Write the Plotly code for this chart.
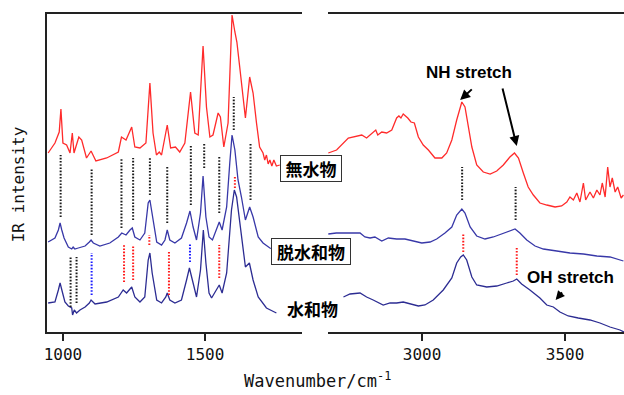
import plotly.graph_objects as go

# ---------------- data (wavenumber / cm-1, IR intensity in arbitrary units) ----------------
# Anhydrate (無水物) – fingerprint region
anh_fp_wn = [948, 972, 987, 993, 1000, 1013, 1025, 1033, 1039, 1045, 1056, 1066, 1083, 1099, 1116, 1154,
             1195, 1206, 1222, 1242, 1253, 1271, 1292, 1306, 1317, 1329, 1339, 1347, 1367, 1379, 1396,
             1411, 1429, 1449, 1464, 1476, 1493, 1505, 1517, 1528, 1546, 1554, 1566, 1581, 1590, 1595,
             1605, 1612, 1622, 1633, 1642, 1657, 1669, 1681, 1692, 1704, 1710, 1716, 1722, 1728, 1735,
             1742, 1751, 1763]
anh_fp_int = [179, 189, 200, 223, 189, 187, 179, 199, 179, 185, 195, 192, 174, 181, 171, 174,
              180, 195, 192, 205, 185, 184, 189, 249, 199, 177, 180, 177, 207, 184, 185,
              180, 189, 240, 199, 197, 286, 225, 195, 197, 219, 215, 185, 209, 272, 317,
              300, 290, 265, 236, 214, 255, 239, 209, 185, 179, 172, 177, 168, 172, 166,
              172, 166, 167]

# Dehydrated hydrate (脱水和物) – fingerprint region
deh_fp_wn = [948, 972, 984, 990, 996, 1004, 1019, 1031, 1036, 1042, 1054, 1078, 1093, 1099, 1107, 1130,
             1165, 1195, 1207, 1222, 1236, 1244, 1253, 1271, 1288, 1300, 1306, 1315, 1330, 1347, 1359,
             1367, 1376, 1394, 1417, 1435, 1447, 1458, 1470, 1484, 1493, 1503, 1514, 1526, 1540, 1550,
             1560, 1576, 1587, 1595, 1605, 1616, 1628, 1642, 1657, 1669, 1687, 1704, 1728, 1749]
deh_fp_int = [90, 94, 102, 109, 102, 94, 85, 83, 85, 83, 84, 86, 90, 92, 89, 86,
              89, 95, 99, 97, 102, 104, 95, 92, 99, 129, 132, 115, 90, 87, 92,
              102, 92, 89, 94, 109, 121, 105, 92, 119, 156, 115, 95, 92, 102, 110,
              102, 125, 169, 197, 182, 152, 135, 112, 125, 115, 95, 89, 84, 82]

# Hydrate (水和物) – fingerprint region
hyd_fp_wn = [948, 972, 984, 990, 998, 1007, 1019, 1031, 1034, 1040, 1048, 1060, 1078, 1093, 1099, 1113,
             1154, 1195, 1212, 1224, 1242, 1253, 1271, 1288, 1300, 1306, 1314, 1330, 1347, 1362, 1367,
             1376, 1394, 1417, 1435, 1445, 1458, 1470, 1484, 1494, 1503, 1514, 1523, 1540, 1550, 1560,
             1576, 1593, 1603, 1611, 1625, 1631, 1642, 1656, 1669, 1687, 1716, 1751]
hyd_fp_int = [29, 30, 42, 49, 40, 30, 26, 24, 17, 22, 19, 22, 25, 29, 32, 28,
              30, 35, 42, 39, 45, 35, 30, 35, 72, 79, 59, 32, 29, 35, 39,
              32, 29, 32, 52, 64, 49, 35, 62, 102, 69, 39, 34, 42, 47, 39,
              59, 122, 142, 135, 104, 94, 65, 69, 52, 35, 24, 19]

# Stretch region
anh_st_wn = [2672, 2701, 2742, 2760, 2777, 2789, 2806, 2824, 2838, 2845, 2859, 2876, 2894, 2911, 2919,
             2926, 2934, 2950, 2961, 2973, 2987, 3004, 3022, 3045, 3069, 3086, 3104, 3121, 3139, 3150,
             3162, 3174, 3191, 3214, 3238, 3261, 3284, 3307, 3323, 3337, 3354, 3371, 3389, 3412, 3436,
             3465, 3488, 3506, 3517, 3529, 3541, 3552, 3564, 3572, 3587, 3599, 3611, 3622, 3630, 3640,
             3649, 3657, 3665, 3675, 3684, 3696, 3704]
anh_st_int = [179, 182, 194, 195, 196, 197, 194, 199, 202, 197, 200, 199, 202, 214, 216,
              214, 218, 214, 210, 209, 195, 187, 182, 174, 174, 179, 192, 212, 230, 225,
              205, 185, 167, 160, 158, 161, 167, 175, 179, 174, 159, 145, 137, 129, 127,
              125, 126, 130, 135, 132, 139, 130, 149, 132, 140, 134, 142, 137, 149, 135,
              165, 145, 154, 140, 145, 134, 137]

deh_st_wn = [2672, 2700, 2725, 2754, 2783, 2800, 2818, 2835, 2859, 2882, 2911, 2940, 2969, 2999, 3028,
             3051, 3080, 3104, 3121, 3139, 3150, 3168, 3191, 3220, 3249, 3284, 3307, 3325, 3342, 3366,
             3395, 3424, 3471, 3517, 3564, 3611, 3657, 3704]
deh_st_int = [98, 99, 99, 99, 99, 95, 94, 95, 91, 94, 93, 93, 91, 89, 90,
              93, 99, 105, 117, 123, 119, 105, 96, 93, 95, 99, 101, 103, 99, 92,
              86, 83, 81, 79, 78, 76, 75, 71]

hyd_st_wn = [2725, 2748, 2783, 2806, 2829, 2853, 2864, 2888, 2911, 2934, 2958, 2987, 3010, 3039, 3074,
             3104, 3121, 3135, 3144, 3156, 3174, 3191, 3226, 3261, 3296, 3319, 3331, 3348, 3377, 3412,
             3436, 3459, 3482, 3511, 3546, 3587, 3622, 3657, 3692, 3706]
hyd_st_int = [35, 38, 39, 35, 32, 29, 27, 29, 29, 30, 28, 26, 27, 32, 42,
              54, 69, 75, 77, 72, 55, 47, 45, 46, 49, 51, 53, 48, 42, 34,
              27, 25, 20, 16, 14, 12, 9, 5, 2, 0]

# Band-correlation markers: position, upper end, lower end
blk_up_wn = [992, 1101, 1206, 1247, 1306, 1367, 1450, 1497, 1550, 1601, 1660, 3140, 3327]
blk_up_top = [177, 163, 174, 174, 175, 165, 186, 189, 175, 235, 189, 165, 145]
blk_up_bot = [115, 97, 104, 112, 137, 109, 127, 164, 119, 202, 132, 132, 112]

red_wn = [1215, 1247, 1304, 1373, 1550, 1605, 3144, 3331]
red_top = [87, 87, 97, 80, 87, 155, 99, 84]
red_bot = [50, 52, 87, 37, 54, 144, 80, 57]

blue_wn = [1101, 1447]
blue_top = [79, 89]
blue_bot = [37, 70]

blk_lo_wn = [1027, 1048]
blk_lo_top = [75, 75]
blk_lo_bot = [25, 29]

x_ticks_fp = [1000, 1500]
x_ticks_st = [3000, 3500]

RED = "#ff2b2b"
BLUE_M = "#3838a8"
BLUE_B = "#2c2c92"


def segs(xs, tops, bots):
    X, Y = [], []
    for x, t, b in zip(xs, tops, bots):
        X += [x, x, None]
        Y += [b, t, None]
    return X, Y


fig = go.Figure()

for xs, ys, col, xa in [
    (anh_fp_wn, anh_fp_int, RED, "x"), (deh_fp_wn, deh_fp_int, BLUE_M, "x"), (hyd_fp_wn, hyd_fp_int, BLUE_B, "x"),
    (anh_st_wn, anh_st_int, RED, "x2"), (deh_st_wn, deh_st_int, BLUE_M, "x2"), (hyd_st_wn, hyd_st_int, BLUE_B, "x2"),
]:
    fig.add_trace(go.Scatter(x=xs, y=ys, mode="lines", line=dict(color=col, width=1.3),
                             xaxis=xa, yaxis="y", hoverinfo="skip"))


def add_markers(xs, tops, bots, col):
    fp = [(x, t, b) for x, t, b in zip(xs, tops, bots) if x < 2000]
    st = [(x, t, b) for x, t, b in zip(xs, tops, bots) if x >= 2000]
    for grp, xa in [(fp, "x"), (st, "x2")]:
        if not grp:
            continue
        X, Y = segs(*zip(*grp))
        fig.add_trace(go.Scatter(x=X, y=Y, mode="lines",
                                 line=dict(color=col, width=2, dash="1.6px,1.6px"),
                                 xaxis=xa, yaxis="y", hoverinfo="skip"))


add_markers(blk_up_wn, blk_up_top, blk_up_bot, "#1a1a1a")
add_markers(red_wn, red_top, red_bot, "#ff1a1a")
add_markers(blue_wn, blue_top, blue_bot, "#1a1aff")
add_markers(blk_lo_wn, blk_lo_top, blk_lo_bot, "#1a1a1a")

axis_common = dict(showline=True, mirror=True, linecolor="#222", linewidth=1.5,
                   ticks="outside", ticklen=7, tickwidth=1.5, tickcolor="#222",
                   showgrid=False, zeroline=False,
                   tickfont=dict(family="DejaVu Sans Mono", size=16, color="#111"))

fig.update_layout(
    width=624, height=395,
    margin=dict(l=47, r=0, t=14, b=63),
    paper_bgcolor="white", plot_bgcolor="white",
    showlegend=False,
    xaxis=dict(domain=[0, 0.4419], range=[944, 1841], tickvals=x_ticks_fp, anchor="y", **axis_common),
    xaxis2=dict(domain=[0.487, 1], range=[2671, 3706], tickvals=x_ticks_st, anchor="y", **axis_common),
    yaxis=dict(range=[0, 318], showline=True, linecolor="#222", linewidth=1.5, showticklabels=False,
               ticks="", showgrid=False, zeroline=False, anchor="x"),
)

cjk = dict(family="Noto Sans CJK JP", size=17, color="black")
lab = dict(family="Liberation Sans, Arial", size=17, color="black")
C = dict(xanchor="center", yanchor="middle", showarrow=False)

annos = [
    dict(text="<b>無水物</b>", xref="paper", yref="y", x=0.4575, y=163.5, font=cjk,
         bgcolor="white", bordercolor="#333", borderwidth=1, width=58, height=23, **C),
    dict(text="<b>脱水和物</b>", xref="paper", yref="y", x=0.4575, y=81, font=cjk,
         bgcolor="white", bordercolor="#333", borderwidth=1, width=76, height=23, **C),
    dict(text="<b>水和物</b>", xref="paper", yref="y", x=0.461, y=24, font=cjk, bgcolor="white", **C),
    dict(text="<b>NH stretch</b>", xref="paper", yref="y", x=0.7314, y=260, font=lab, bgcolor="white", **C),
    dict(text="<b>OH stretch</b>", xref="paper", yref="y", x=0.908, y=55, font=lab, **C),
    dict(text="", xref="x2", yref="y", x=3133, y=232, axref="x2", ayref="y", ax=3179, ay=244,
         showarrow=True, arrowhead=2, arrowsize=1, arrowwidth=2, arrowcolor="black"),
    dict(text="", xref="x2", yref="y", x=3331, y=186, axref="x2", ayref="y", ax=3280, ay=245,
         showarrow=True, arrowhead=2, arrowsize=1, arrowwidth=2, arrowcolor="black"),
    dict(text="", xref="x2", yref="y", x=3467, y=32, axref="x2", ayref="y", ax=3494, ay=41,
         showarrow=True, arrowhead=2, arrowsize=0.9, arrowwidth=2, arrowcolor="black"),
    dict(text="IR intensity", xref="paper", yref="paper", x=-0.05, y=0.465, textangle=-90,
         font=dict(family="DejaVu Sans Mono", size=16, color="#111"), **C),
    dict(text="Wavenumber/cm<sup>-1</sup>", xref="paper", yref="paper", x=0.468, y=-0.15,
         font=dict(family="DejaVu Sans Mono", size=17, color="#111"), **C),
]
fig.update_layout(annotations=annos)

fig.write_html("out.html", config={"displayModeBar": False},
               post_script="document.body.style.margin='0';document.body.style.overflow='hidden';")
